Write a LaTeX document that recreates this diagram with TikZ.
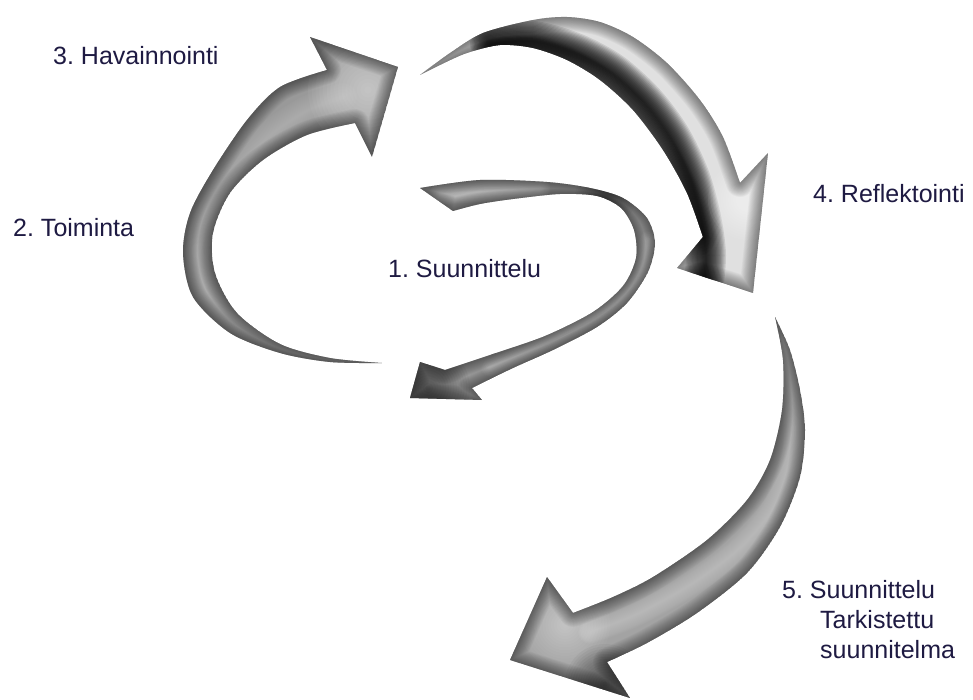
\documentclass[tikz,border=0pt]{standalone}
\usepackage{fontspec}
\setmainfont{Liberation Sans}
\definecolor{txt}{RGB}{30,26,66}
\definecolor{baseA}{gray}{0.64}
\definecolor{baseB}{gray}{0.6}
\definecolor{baseC}{gray}{0.88}
\definecolor{baseD}{gray}{0.64}
% arrow outlines (pixel coordinates, y downwards)
\newcommand\arrA{plot[smooth] coordinates {(420,188) (480,180) (547,182) (590,188) (623,198) (647,218) (655,243) (648,272) (627,303) (597,327) (553,350) (513,368) (472,388)} -- (482,400) -- (410,398) -- (420,362) -- plot[smooth] coordinates {(445,370) (490,355) (545,336) (593,312) (623,286) (636,258) (634,230) (621,208) (597,196) (560,194) (513,199) (480,204) (453,211)} -- cycle}
\newcommand\arrB{plot[smooth] coordinates {(327,70) (280,87) (247,120) (213,170) (190,213) (183,253) (193,297) (230,333) (280,353) (330,362) (382,363)} -- plot[smooth] coordinates {(382,363) (330,358) (280,344) (237,313) (215,273) (213,233) (230,193) (263,160) (307,135) (355,123)} -- (372,157) -- (398,67) -- (310,37) -- cycle}
\newcommand\arrC{plot[smooth] coordinates {(420,75) (450,53) (483,33) (533,20) (567,17) (600,22) (633,37) (667,63) (700,100) (723,137) (740,183)} -- (768,153) -- (753,293) -- (677,268) -- plot[smooth] coordinates {(703,237) (687,193) (663,150) (633,110) (600,80) (567,60) (533,48) (500,45) (467,53) (440,65) (420,75)} -- cycle}
\newcommand\arrD{plot[smooth] coordinates {(775,317) (790,350) (800,390) (805,430) (800,477) (780,527) (747,573) (697,613) (647,643) (607,662)} -- (630,698) -- (510,660) -- (547,577) -- plot[smooth] coordinates {(573,613) (613,597) (653,577) (707,540) (747,500) (770,460) (782,410) (783,360) (775,317)} -- cycle}
% shading helpers: many thin steps give a smooth gradient
\newcommand\tubeedge[1]{\foreach \i in {1,...,16}{\pgfmathsetmacro\ww{28*(17-\i)/16}\draw[black,opacity=0.03,line width=\ww pt,line join=round] #1;}}
% #1 colour, #2 max width, #3 opacity per step, #4 path
\newcommand\glow[4]{\foreach \i in {1,...,16}{\pgfmathsetmacro\ww{#2*(17-\i)/16}\draw[#1,opacity=#3,line width=\ww pt,line cap=round,line join=round] #4;}}
% #1 colour, #2 centre, #3 radius, #4 opacity per step
\newcommand\spot[4]{\foreach \i in {1,...,16}{\pgfmathsetmacro\rr{#3*(17-\i)/16}\fill[#1,opacity=#4] #2 circle[radius=\rr];}}
\begin{document}
\frenchspacing
\begin{tikzpicture}[x=1pt,y=-1pt,
  lab/.style={inner sep=0pt, text=txt, font=\fontsize{25}{30}\selectfont}]
\useasboundingbox (0,0) rectangle (973,700);
\fill[white] (0,0) rectangle (973,700);

% arrow B (Toiminta -> Havainnointi)
\begin{scope}
\clip \arrB;
\fill[baseB] \arrB;
\glow{white}{30}{0.02}{plot[smooth] coordinates {(343,97) (305,112) (265,140) (232,180) (207,222) (200,258) (207,292) (237,320) (280,340) (330,352) (370,358)}}
\spot{white}{(368,90)}{60}{0.04}
\tubeedge{\arrB}
\end{scope}

% arrow C (Havainnointi -> Reflektointi)
\begin{scope}
\clip \arrC;
\fill[baseC] \arrC;
\glow{black}{40}{0.1}{plot[smooth] coordinates {(490,44) (533,41) (575,53) (612,73) (645,103) (671,138) (690,178) (701,218) (706,255) (703,290)}}
\spot{white}{(748,200)}{40}{0.05}
\tubeedge{\arrC}
\end{scope}

% arrow A (Suunnittelu)
\begin{scope}
\clip \arrA;
\fill[baseA] \arrA;
\glow{white}{22}{0.035}{plot[smooth] coordinates {(440,194) (490,191) (540,190)}}
\glow{white}{18}{0.03}{plot[smooth] coordinates {(648,240) (640,275) (615,303) (575,328) (530,350) (490,368)}}
\spot{black}{(605,198)}{30}{0.03}
\spot{black}{(428,388)}{42}{0.035}
\tubeedge{\arrA}
\end{scope}

% arrow D (Suunnittelu, tarkistettu)
\begin{scope}
\clip \arrD;
\fill[baseD] \arrD;
\glow{white}{24}{0.025}{plot[smooth] coordinates {(781,345) (792,400) (793,450) (775,505) (740,548) (690,585) (635,615) (590,632)}}
\spot{white}{(565,625)}{45}{0.03}
\spot{black}{(605,684)}{40}{0.035}
\tubeedge{\arrD}
\end{scope}

% labels
\node[lab, anchor=base west] (l1) at (388,277) {1. Suunnittelu};
\node[lab, anchor=base west] (l2) at (13,237) {2. Toiminta};
\node[lab, anchor=base west] (l3) at (53,65) {3. Havainnointi};
\node[lab, anchor=base west] (l4) at (813,203) {4. Reflektointi};
\node[lab, anchor=base west, align=left] (l5) at (782,658) {5. Suunnittelu\\\hspace*{38pt}Tarkistettu\\\hspace*{38pt}suunnitelma};
\end{tikzpicture}
\end{document}
